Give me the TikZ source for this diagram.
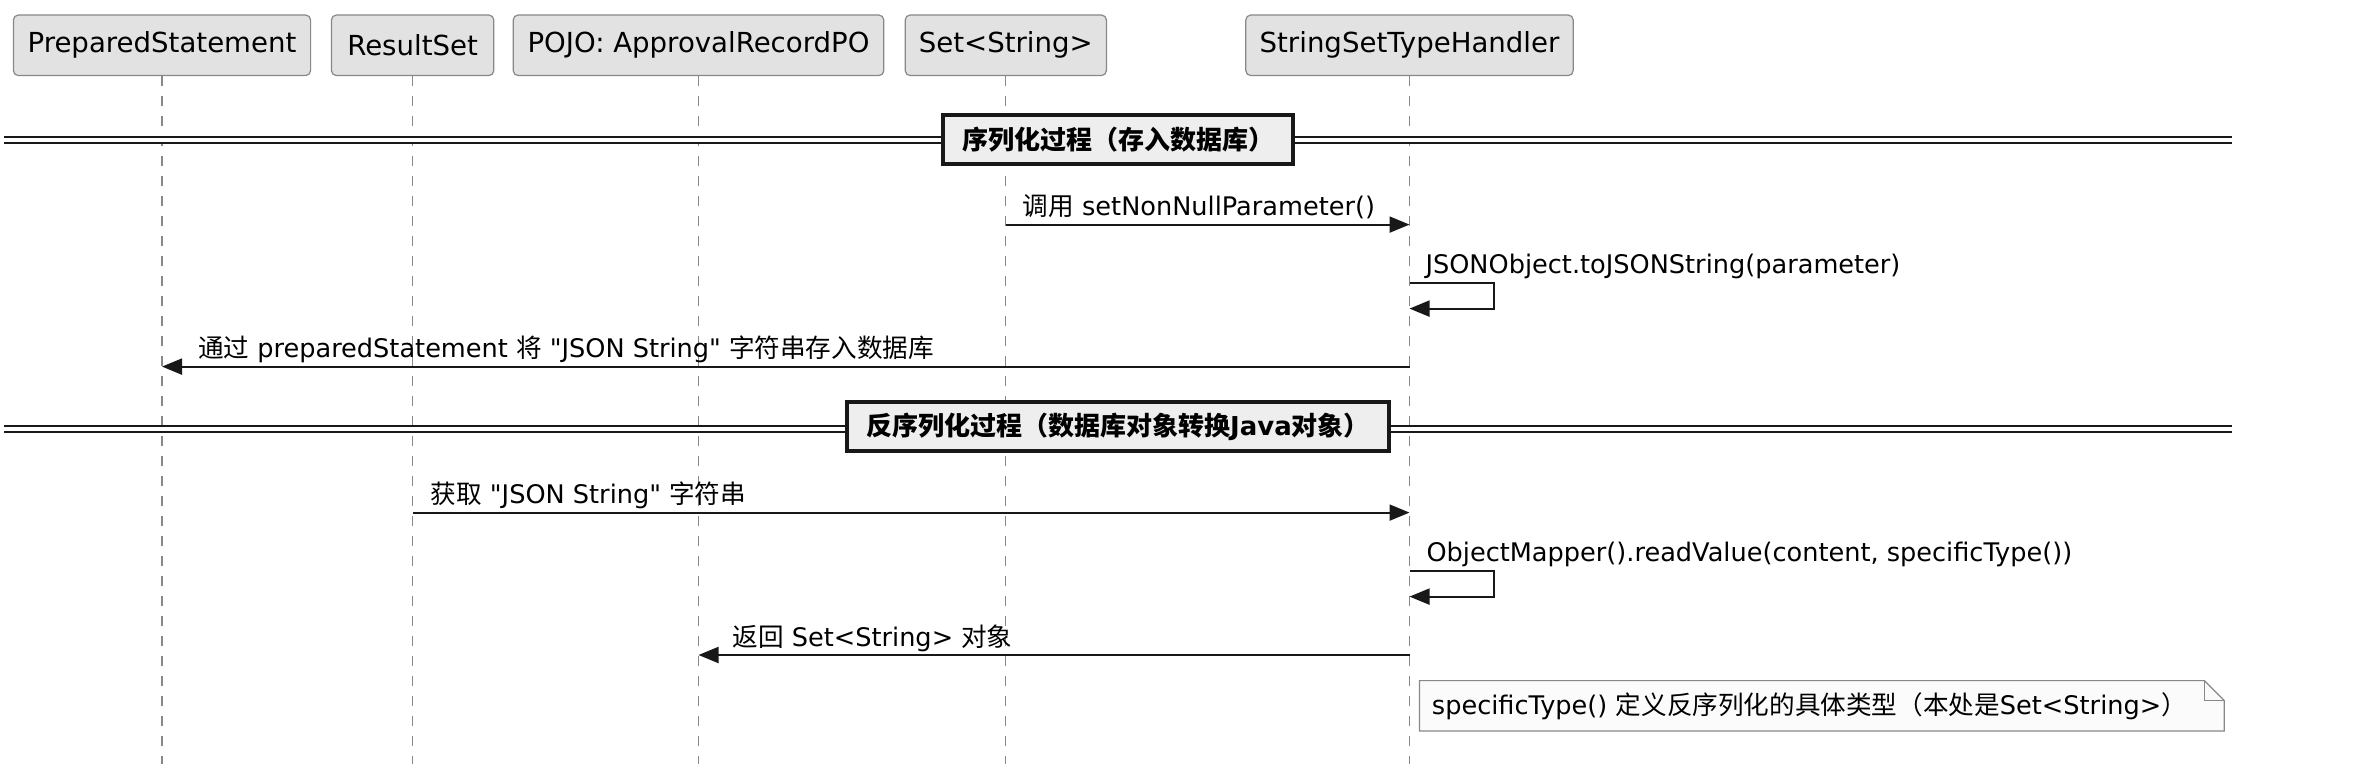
\documentclass[tikz,border=0pt]{standalone}
\usepackage{fontspec}
\newfontfamily\djv{DejaVu Sans}
\newfontfamily\cjk{Noto Sans CJK SC}
\newcommand{\zh}[1]{{\cjk #1}}
\usepackage{tikz}
\usetikzlibrary{positioning,arrows.meta}
\pgfdeclarelayer{background}
\pgfsetlayers{background,main}
\definecolor{boxfill}{HTML}{E2E2E2}
\definecolor{boxline}{HTML}{888888}
\definecolor{notefill}{HTML}{FBFBFB}
\definecolor{sepfill}{HTML}{EEEEEE}
\definecolor{ink}{HTML}{181818}

\begin{document}
\begin{tikzpicture}[x=1pt, y=-1pt, participant/.style={rectangle, rounded corners=2.5pt, draw=boxline, fill=boxfill, line width=.6pt, outer sep=0pt, minimum height=30.3pt, inner xsep=3pt, font=\djv\fontsize{13.8}{16}\selectfont}, life/.style={draw=boxline, line width=.6pt, dash pattern=on 5pt off 5pt}, msg/.style={draw=ink, line width=1pt, -{Triangle[length=10pt,width=8pt]}}, msgtext/.style={anchor=base west, inner sep=0pt, text=black, font=\djv\fontsize{12.8}{15}\selectfont}, sepline/.style={draw=ink, line width=1pt, double=white, double distance=2pt}, divider/.style={draw=ink, line width=2pt, fill=sepfill, minimum height=24.5pt, inner xsep=9.5pt, font=\djv\fontsize{13}{15}\selectfont\bfseries}, note/.style={anchor=west, text width=390pt, inner xsep=6pt, inner ysep=0pt, minimum height=24.8pt, align=left, font=\djv\fontsize{12.8}{15}\selectfont}, notebox/.style={draw=boxline, line width=.6pt, fill=notefill}]
\useasboundingbox (0,0) rectangle (1177,382);

\node[participant, minimum width=148.6pt] (ps) at (81,22.65) {PreparedStatement};
\node[participant, minimum width=81.2pt, right=10.4pt of ps] (rs) {ResultSet};
\node[participant, minimum width=185.3pt, right=9.7pt of rs] (pojo) {POJO: ApprovalRecordPO};
\node[participant, minimum width=100.6pt, right=10.7pt of pojo] (set) {Set<String>};
\node[participant, minimum width=163.7pt, right=69.7pt of set] (handler) {StringSetTypeHandler};

\coordinate (bottom) at (0,382);
\foreach \p in {ps,rs,pojo,set,handler}
  \draw[life] (\p.south) -- (\p |- bottom);

\coordinate (d1l) at (2,70.2);
\coordinate (d1r) at (1116,70.2);
\coordinate (d2l) at (2,214.5);
\coordinate (d2r) at (1116,214.5);
\draw[sepline] (d1l) -- (d1r);
\draw[sepline] (d2l) -- (d2r);
\node[divider] (d1) at (559,69.8) {\zh{序列化过程（存入数据库）}};
\node[divider] (d2) at (559,213.2) {\zh{反序列化过程（数据库对象转换}Java\zh{对象）}};

\coordinate (m1) at (0,112.3);
\coordinate (s1) at (0,141.3);
\coordinate (s1b) at (747,154.3);
\coordinate (m3) at (0,183.3);
\coordinate (m4) at (0,256.3);
\coordinate (s2) at (0,285.3);
\coordinate (s2b) at (747,298.3);
\coordinate (m6) at (0,327.5);
\coordinate (n1) at (0,352.9);

\draw[msg] (set |- m1) node[msgtext, xshift=8pt, yshift=4.5pt] {\zh{调用} setNonNullParameter()} -- (handler |- m1);
\draw[msg] (handler |- s1) node[msgtext, xshift=7.5pt, yshift=4.5pt] {JSONObject.toJSONString(parameter)} -| (s1b) -- (handler |- s1b);
\draw[msg] (handler |- m3) -- (ps |- m3) node[msgtext, xshift=17.5pt, yshift=4.5pt] {\zh{通过} preparedStatement \zh{将} "JSON String" \zh{字符串存入数据库}};
\draw[msg] (rs |- m4) node[msgtext, xshift=8.5pt, yshift=4.5pt] {\zh{获取} "JSON String" \zh{字符串}} -- (handler |- m4);
\draw[msg] (handler |- s2) node[msgtext, xshift=8pt, yshift=4.5pt] {ObjectMapper().readValue(content, specificType())} -| (s2b) -- (handler |- s2b);
\draw[msg] (handler |- m6) -- (pojo |- m6) node[msgtext, xshift=16.5pt, yshift=4.5pt] {\zh{返回} Set<String> \zh{对象}};

\node[note, xshift=5pt] (nt) at (handler |- n1) {specificType() \zh{定义反序列化的具体类型（本处是}Set<String>\zh{）}};
\begin{pgfonlayer}{background}
\draw[notebox] (nt.north west) -- ([xshift=-10pt]nt.north east) -- ([yshift=-10pt]nt.north east) -- (nt.south east) -- (nt.south west) -- cycle;
\draw[notebox, fill=none] ([xshift=-10pt]nt.north east) |- ([yshift=-10pt]nt.north east);
\end{pgfonlayer}
\end{tikzpicture}
\end{document}
